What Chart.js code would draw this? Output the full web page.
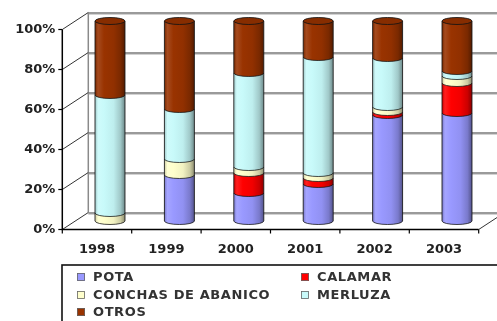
<!DOCTYPE html>
<html>
<head>
<meta charset="utf-8">
<script src="https://cdn.jsdelivr.net/npm/chart.js@4/dist/chart.umd.min.js"></script>
<style>
  html, body { margin: 0; padding: 0; background: #fff; overflow: hidden; }
  #wrap { width: 497px; height: 321px; position: relative; }
</style>
</head>
<body>
<div id="wrap"><canvas id="c" width="497" height="321"></canvas></div>
<script>
// Landing shares by species (percent of each year's total)
const years   = ['1998', '1999', '2000', '2001', '2002', '2003'];
const pota    = [0,   23, 14, 18.5, 53,   54];
const calamar = [0,   0,  10, 3,    1.5,  15];
const conchas = [4,   8,  3,  2.5,  2.5,  3.5];
const merluza = [59,  25, 47, 58,   24.5, 2.5];
const otros   = [37,  44, 26, 18,   18.5, 25];
const yTicks  = [0, 20, 40, 60, 80, 100];
const seriesNames = ['POTA', 'CALAMAR', 'CONCHAS DE ABANICO', 'MERLUZA', 'OTROS'];
const seriesValues = [pota, calamar, conchas, merluza, otros];
const seriesRGB = [[153,153,255], [255,0,0], [255,255,204], [200,250,250], [153,51,0]];

// depth of the 3D box (half offsets from the bar plane) and cylinder look
const DX = 13, DY = 8.5, RY = 3.5, BAR_FRAC = 0.432;
const FONT = { family: 'DejaVu Sans', size: 13, weight: 'bold' };
const TEXT = '#222';

function shade(rgb, f) {
  const t = f < 0 ? 0 : 255, a = Math.abs(f);
  return 'rgb(' + rgb.map(c => Math.round(c + (t - c) * a)).join(',') + ')';
}

function cylinderFill(rgb) {
  return (c) => {
    const xs = c.chart.scales && c.chart.scales.x;
    if (!xs || c.type !== 'data' || !isFinite(xs.left)) return shade(rgb, 0);
    const cx = xs.getPixelForValue(c.dataIndex);
    const w = (xs.right - xs.left) / years.length * BAR_FRAC;
    const g = c.chart.ctx.createLinearGradient(cx - w / 2, 0, cx + w / 2, 0);
    g.addColorStop(0, shade(rgb, -0.2));
    g.addColorStop(0.1, shade(rgb, 0.12));
    g.addColorStop(0.3, shade(rgb, 0));
    g.addColorStop(0.62, shade(rgb, -0.05));
    g.addColorStop(0.85, shade(rgb, -0.2));
    g.addColorStop(1, shade(rgb, -0.45));
    return g;
  };
}

const box3d = {
  id: 'box3d',
  beforeDatasetsDraw(chart) {
    const { ctx, chartArea: a, scales: { y } } = chart;
    const fl = a.left - DX, fr = a.right - DX, bl = a.left + DX, br = a.right + DX;
    const yF = v => y.getPixelForValue(v) + DY;
    const yB = v => y.getPixelForValue(v) - DY;
    ctx.save();
    // back wall gridlines
    yTicks.forEach(v => {
      const yy = Math.round(yB(v));
      ctx.strokeStyle = '#d2d2d2'; ctx.lineWidth = 1;
      ctx.beginPath(); ctx.moveTo(bl, yy + 1.5); ctx.lineTo(br, yy + 1.5); ctx.stroke();
      ctx.strokeStyle = '#9a9a9a'; ctx.lineWidth = 2;
      ctx.beginPath(); ctx.moveTo(bl, yy); ctx.lineTo(br, yy); ctx.stroke();
    });
    // back wall left edge
    ctx.strokeStyle = '#8a8a8a'; ctx.lineWidth = 1.5;
    ctx.beginPath(); ctx.moveTo(bl, yB(0)); ctx.lineTo(bl, yB(100)); ctx.stroke();
    // side wall diagonals
    ctx.strokeStyle = '#333'; ctx.lineWidth = 1;
    yTicks.forEach(v => {
      ctx.beginPath(); ctx.moveTo(fl, yF(v)); ctx.lineTo(bl, yB(v)); ctx.stroke();
    });
    // floor right edge
    ctx.beginPath(); ctx.moveTo(fr, yF(0)); ctx.lineTo(br, yB(0)); ctx.stroke();
    // front axes
    ctx.strokeStyle = '#000'; ctx.lineWidth = 1.5;
    ctx.beginPath(); ctx.moveTo(fl, yF(100)); ctx.lineTo(fl, yF(0)); ctx.lineTo(fr, yF(0)); ctx.stroke();
    ctx.lineWidth = 1.2;
    yTicks.forEach(v => {
      ctx.beginPath(); ctx.moveTo(fl - 4, yF(v)); ctx.lineTo(fl, yF(v)); ctx.stroke();
    });
    const step = (a.right - a.left) / years.length;
    for (let k = 0; k <= years.length; k++) {
      const xx = fl + k * step;
      ctx.beginPath(); ctx.moveTo(xx, yF(0)); ctx.lineTo(xx, yF(0) + 4); ctx.stroke();
    }
    ctx.restore();
  },
  afterDatasetsDraw(chart) {
    const { ctx } = chart;
    const metas = seriesNames.map((_, i) => chart.getDatasetMeta(i));
    ctx.save();
    for (let j = 0; j < years.length; j++) {
      const segs = [];
      metas.forEach((m, i) => {
        const el = m.data[j];
        if (Math.abs(el.base - el.y) > 0.05) segs.push({ el, i });
      });
      if (!segs.length) continue;
      const cx = segs[0].el.x, hw = segs[0].el.width / 2;
      // rounded lower edge of every segment
      segs.forEach(({ el }) => {
        ctx.fillStyle = el.options.backgroundColor;
        ctx.beginPath(); ctx.ellipse(cx, el.base, hw, RY, 0, 0, Math.PI); ctx.fill();
      });
      ctx.strokeStyle = 'rgba(20,20,20,0.85)'; ctx.lineWidth = 0.9;
      segs.forEach(({ el }) => {
        ctx.beginPath(); ctx.ellipse(cx, el.base, hw, RY, 0, 0, Math.PI); ctx.stroke();
      });
      const top = segs[segs.length - 1];
      const bottomY = segs[0].el.base;
      ctx.lineWidth = 1;
      ctx.beginPath();
      ctx.moveTo(cx - hw, bottomY); ctx.lineTo(cx - hw, top.el.y);
      ctx.moveTo(cx + hw, bottomY); ctx.lineTo(cx + hw, top.el.y);
      ctx.stroke();
      // lid
      ctx.fillStyle = shade(seriesRGB[top.i], -0.12);
      ctx.beginPath(); ctx.ellipse(cx, top.el.y, hw, RY, 0, 0, Math.PI * 2); ctx.fill(); ctx.stroke();
    }
    ctx.restore();
  },
  afterDraw(chart) {
    const { ctx } = chart;
    ctx.save();
    ctx.strokeStyle = '#111'; ctx.lineWidth = 1.6;
    ctx.strokeRect(62, 265, 450, 70);
    const cols = [77, 301], rows = [277, 295, 312];
    const place = [[0, 0], [1, 0], [0, 1], [1, 1], [0, 2]];
    ctx.font = 'bold 13px "DejaVu Sans"';
    if ('letterSpacing' in ctx) ctx.letterSpacing = '0.6px';
    ctx.textBaseline = 'middle';
    ctx.textAlign = 'left';
    seriesNames.forEach((name, i) => {
      const mx = cols[place[i][0]], my = rows[place[i][1]];
      ctx.fillStyle = shade(seriesRGB[i], 0);
      ctx.fillRect(mx, my - 4, 8, 8);
      ctx.strokeStyle = '#666'; ctx.lineWidth = 0.8;
      ctx.strokeRect(mx + 0.5, my - 3.5, 7, 7);
      ctx.fillStyle = '#333';
      ctx.fillText(name, mx + 16, my + 0.5);
    });
    ctx.restore();
  }
};

new Chart(document.getElementById('c'), {
  type: 'bar',
  data: {
    labels: years,
    datasets: seriesNames.map((name, i) => ({
      label: name,
      data: seriesValues[i],
      backgroundColor: cylinderFill(seriesRGB[i]),
      borderWidth: 0,
      categoryPercentage: 1,
      barPercentage: BAR_FRAC
    }))
  },
  options: {
    responsive: false,
    animation: false,
    devicePixelRatio: 1,
    layout: { padding: { top: 21, right: 5.3, left: 0, bottom: 0 } },
    plugins: { legend: { display: false }, tooltip: { enabled: false } },
    scales: {
      x: {
        stacked: true,
        grid: { display: false, drawTicks: false },
        border: { display: false },
        ticks: { font: FONT, color: TEXT, padding: 13, labelOffset: -DX, maxRotation: 0, autoSkip: false },
        afterFit(s) { s.height = 92; s.paddingLeft = 0; s.paddingRight = 0; }
      },
      y: {
        stacked: true,
        min: -4,
        max: 100,
        grid: { display: false, drawTicks: false },
        border: { display: false },
        afterBuildTicks(s) { s.ticks = yTicks.map(v => ({ value: v })); },
        ticks: {
          font: FONT, color: TEXT, padding: 20, labelOffset: DY, autoSkip: false,
          callback: v => v + '%'
        },
        afterFit(s) { s.width = 75.3; s.paddingTop = 0; s.paddingBottom = 0; }
      }
    }
  },
  plugins: [box3d]
});
</script>
</body>
</html>
